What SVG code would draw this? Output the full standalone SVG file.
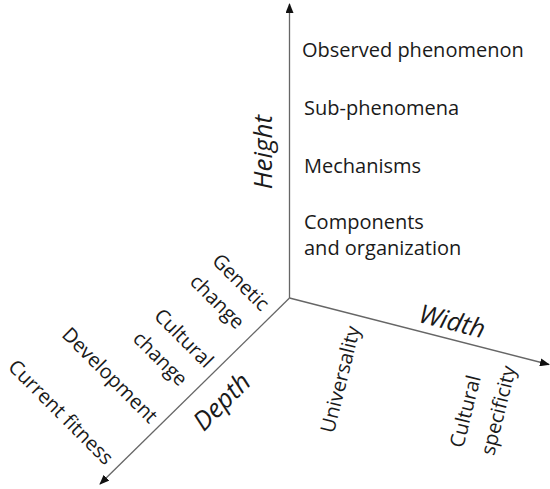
<svg xmlns="http://www.w3.org/2000/svg" width="550" height="489" viewBox="0 0 550 489">
<style>
.lbl{font-family:"Open Sans","Liberation Sans",sans-serif;font-size:20px;fill:#1a1a1a}
.ax{font-family:"Open Sans","Liberation Sans",sans-serif;font-size:26px;font-style:italic;fill:#1a1a1a}
.axis{stroke:#666;stroke-width:1.3;fill:none}
</style>
<defs>
<marker id="arr" markerUnits="userSpaceOnUse" markerWidth="10" markerHeight="8" refX="9" refY="4" orient="auto">
<path d="M0,0 L10,4 L0,8 z" fill="#111"/>
</marker>
</defs>
<rect width="550" height="489" fill="#fff"/>
<g id="connectors">
<line class="axis" x1="289.5" y1="298" x2="289.5" y2="4" marker-end="url(#arr)"/>
<line class="axis" x1="289.5" y1="298" x2="549" y2="364.5" marker-end="url(#arr)"/>
<line class="axis" x1="289.5" y1="298" x2="100" y2="484" marker-end="url(#arr)"/>
</g>
<g id="height-axis">
<text class="ax" transform="translate(272,152) rotate(-90)" text-anchor="middle">Height</text>
<text class="lbl" x="302" y="57">Observed phenomenon</text>
<text class="lbl" x="304" y="115">Sub-phenomena</text>
<text class="lbl" x="304" y="173">Mechanisms</text>
<text class="lbl" x="304" y="229">Components</text>
<text class="lbl" x="304" y="255">and organization</text>
</g>
<g id="width-axis">
<text class="ax" transform="translate(450,330) rotate(14.4)" text-anchor="middle">Width</text>
<text class="lbl" transform="translate(347,381) rotate(-76)" text-anchor="middle">Universality</text>
<text class="lbl" transform="translate(472,413) rotate(-76)" text-anchor="middle">Cultural</text>
<text class="lbl" transform="translate(505,412) rotate(-76)" text-anchor="middle">specificity</text>
</g>
<g id="depth-axis">
<text class="ax" transform="translate(228,408) rotate(-45)" text-anchor="middle">Depth</text>
<text class="lbl" transform="translate(236,287) rotate(45)" text-anchor="middle">Genetic</text>
<text class="lbl" transform="translate(212.5,306.5) rotate(45)" text-anchor="middle">change</text>
<text class="lbl" transform="translate(179,343) rotate(45)" text-anchor="middle">Cultural</text>
<text class="lbl" transform="translate(155.5,363.5) rotate(45)" text-anchor="middle">change</text>
<text class="lbl" transform="translate(105,380) rotate(45)" text-anchor="middle">Development</text>
<text class="lbl" transform="translate(56,417) rotate(45)" text-anchor="middle">Current fitness</text>
</g>
</svg>
